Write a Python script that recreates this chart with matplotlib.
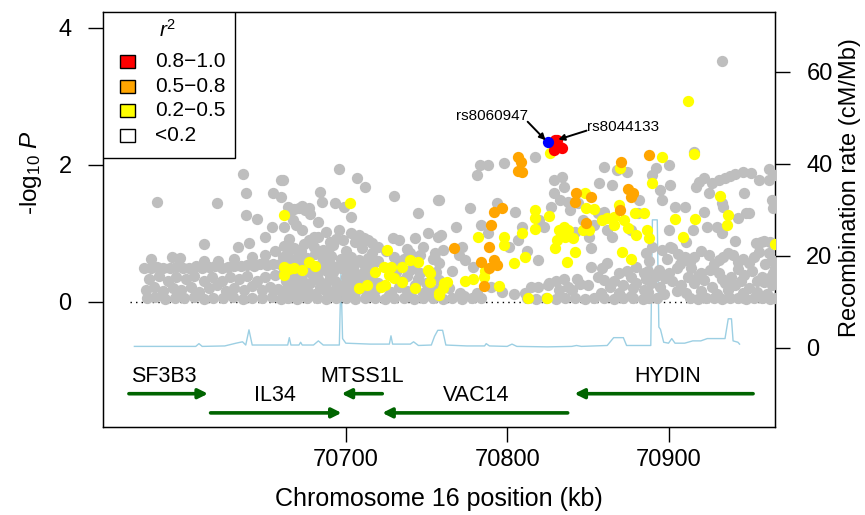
import numpy as np
import matplotlib
matplotlib.use("Agg")
import matplotlib.pyplot as plt
from matplotlib.patches import Rectangle

plt.rcParams['font.family'] = ['Liberation Sans', 'DejaVu Sans']
plt.rcParams['mathtext.fontset'] = 'custom'
plt.rcParams['mathtext.rm'] = 'Liberation Sans'
plt.rcParams['mathtext.it'] = 'Liberation Sans:italic'

# ---- SNPs, r2 < 0.2 (position kb, -log10 P) ----
gray_left = [
    (70583, 1.46), (70620, 1.45), (70612, 0.85), (70633, 0.80), (70640, 0.86),
    (70636, 1.87), (70638, 1.59), (70638, 1.27), (70645, 1.21), (70655, 1.59),
    (70660, 1.78), (70660, 1.53), (70654, 1.09), (70650, 0.95), (70656, 0.75),
    (70579, 0.62), (70592, 0.66), (70597, 0.64), (70612, 0.60), (70621, 0.59),
    (70631, 0.63), (70642, 0.65), (70650, 0.68),
    (70575, 0.50), (70579, 0.49), (70583, 0.51), (70587, 0.50), (70591, 0.49),
    (70595, 0.51), (70599, 0.50), (70603, 0.49), (70607, 0.52), (70611, 0.50),
    (70615, 0.51), (70619, 0.52), (70623, 0.50), (70627, 0.51), (70631, 0.53),
    (70635, 0.52), (70639, 0.54), (70643, 0.53), (70647, 0.55), (70651, 0.54),
    (70655, 0.56), (70659, 0.55),
    (70578, 0.34), (70584, 0.38), (70590, 0.30), (70595, 0.36), (70601, 0.33),
    (70606, 0.38), (70612, 0.31), (70617, 0.36), (70623, 0.30), (70628, 0.37),
    (70634, 0.33), (70639, 0.38), (70645, 0.31), (70650, 0.36), (70656, 0.40),
    (70576, 0.18), (70581, 0.22), (70587, 0.16), (70593, 0.21), (70598, 0.17),
    (70604, 0.22), (70609, 0.15), (70615, 0.20), (70620, 0.24), (70626, 0.16),
    (70631, 0.21), (70637, 0.18), (70642, 0.23), (70648, 0.17), (70653, 0.22),
    (70658, 0.19),
    (70577, 0.05), (70582, 0.07), (70588, 0.04), (70594, 0.06), (70600, 0.05),
    (70606, 0.07), (70612, 0.04), (70618, 0.06), (70624, 0.05), (70630, 0.07),
    (70636, 0.04), (70642, 0.06), (70648, 0.05), (70654, 0.07), (70660, 0.04),
]
gray_mid = [
    (70661, 1.78), (70666, 1.34), (70671, 1.37), (70675, 1.34), (70667, 1.20),
    (70662, 1.09), (70673, 1.05), (70683, 1.17), (70684, 1.61), (70685, 1.46),
    (70693, 1.44), (70696, 1.94), (70707, 1.81), (70712, 1.68), (70699, 1.39),
    (70703, 1.24), (70696, 1.05), (70698, 0.91), (70703, 1.01), (70708, 0.98),
    (70711, 0.93), (70716, 0.86), (70720, 0.80), (70729, 0.93), (70733, 0.91),
    (70730, 1.55), (70745, 1.30), (70743, 0.93), (70738, 0.77), (70758, 1.49),
    (70759, 0.98), (70751, 1.00), (70757, 0.95), (70664, 1.30), (70678, 1.28),
    (70669, 1.12), (70688, 1.02), (70690, 0.88), (70680, 0.95), (70664, 1.38),
    (70668, 1.36), (70673, 1.40), (70677, 1.37),
    (70665, 0.92), (70677, 0.90), (70683, 0.95), (70694, 0.92), (70706, 0.88),
    (70714, 0.90),
    (70662, 0.82), (70668, 0.78), (70674, 0.85), (70680, 0.80), (70686, 0.76),
    (70692, 0.83), (70710, 0.78), (70725, 0.74), (70748, 0.80), (70755, 0.72),
    (70664, 0.73), (70672, 0.74), (70683, 0.72), (70689, 0.73), (70700, 0.74),
    (70716, 0.72), (70740, 0.72),
    (70661, 0.66), (70666, 0.62), (70671, 0.68), (70676, 0.64), (70681, 0.70),
    (70686, 0.63), (70691, 0.67), (70697, 0.62), (70703, 0.66), (70708, 0.61),
    (70714, 0.64), (70720, 0.60), (70730, 0.66), (70736, 0.62), (70746, 0.68),
    (70754, 0.63),
    (70663, 0.56), (70669, 0.55), (70675, 0.57), (70684, 0.54), (70690, 0.56),
    (70695, 0.53), (70700, 0.57), (70705, 0.54), (70711, 0.56), (70716, 0.53),
    (70733, 0.56), (70742, 0.54), (70758, 0.57),
    (70662, 0.45), (70667, 0.42), (70672, 0.48), (70677, 0.44), (70682, 0.40),
    (70687, 0.47), (70692, 0.43), (70697, 0.49), (70702, 0.44), (70707, 0.41),
    (70712, 0.46), (70731, 0.43), (70740, 0.46), (70746, 0.42), (70756, 0.44),
    (70665, 0.37), (70670, 0.39), (70680, 0.36), (70690, 0.38), (70700, 0.37),
    (70705, 0.39), (70711, 0.36), (70716, 0.39), (70738, 0.38), (70755, 0.37),
    (70663, 0.30), (70668, 0.26), (70673, 0.32), (70678, 0.28), (70683, 0.34),
    (70688, 0.27), (70693, 0.31), (70698, 0.25), (70703, 0.33), (70708, 0.29),
    (70715, 0.31), (70720, 0.27), (70735, 0.30), (70745, 0.33), (70750, 0.27),
    (70758, 0.32),
    (70664, 0.22), (70674, 0.23), (70684, 0.22), (70694, 0.21), (70704, 0.23),
    (70710, 0.21), (70733, 0.22), (70743, 0.24), (70752, 0.21),
    (70661, 0.15), (70666, 0.18), (70671, 0.13), (70676, 0.17), (70681, 0.12),
    (70686, 0.19), (70691, 0.14), (70696, 0.16), (70701, 0.12), (70706, 0.15),
    (70713, 0.13), (70718, 0.17), (70728, 0.14), (70738, 0.16), (70748, 0.13),
    (70755, 0.17),
    (70667, 0.10), (70679, 0.10), (70691, 0.09), (70703, 0.10), (70715, 0.09),
    (70727, 0.10), (70739, 0.09), (70751, 0.10),
    (70664, 0.05), (70670, 0.04), (70676, 0.06), (70682, 0.05), (70688, 0.04),
    (70694, 0.06), (70700, 0.05), (70706, 0.04), (70712, 0.06), (70718, 0.05),
    (70724, 0.04), (70730, 0.06), (70736, 0.05), (70742, 0.04), (70748, 0.06),
    (70754, 0.05), (70760, 0.04),
]
gray_midright = [
    (70817, 2.12), (70798, 2.03), (70783, 2.00), (70788, 2.00), (70781, 1.85),
    (70757, 1.49), (70777, 1.37), (70794, 1.44), (70805, 1.31), (70823, 1.09),
    (70827, 1.39), (70809, 1.09), (70807, 0.91), (70801, 0.80), (70772, 0.80),
    (70774, 0.61), (70819, 0.61), (70829, 1.78), (70834, 1.82), (70829, 1.59),
    (70833, 1.49), (70838, 1.46), (70835, 1.68), (70844, 1.44), (70839, 1.34),
    (70860, 1.31), (70856, 1.30), (70862, 1.05), (70865, 0.95), (70860, 1.97),
    (70857, 1.74), (70874, 1.90), (70868, 1.93), (70865, 1.71), (70851, 0.95),
    (70852, 0.79), (70862, 0.57), (70880, 0.51), (70768, 1.09), (70788, 1.01),
    (70784, 1.12), (70820, 1.20), (70779, 0.51), (70766, 0.45), (70882, 1.49),
    (70881, 1.30), (70847, 1.20), (70854, 1.12), (70877, 1.05), (70842, 1.02),
    (70812, 0.75), (70770, 0.68), (70760, 0.76), (70755, 0.62),
    (70852, 0.51), (70859, 0.50), (70869, 0.42), (70877, 0.36), (70885, 0.42),
    (70860, 0.32), (70850, 0.25), (70840, 0.18), (70832, 0.18), (70825, 0.25),
    (70815, 0.22), (70811, 0.13), (70858, 0.13), (70869, 0.13), (70877, 0.08),
    (70885, 0.18), (70819, 0.22), (70826, 0.28), (70838, 0.22), (70845, 0.26),
    (70864, 0.22), (70872, 0.25), (70878, 0.20), (70790, 0.22), (70781, 0.13),
    (70771, 0.13), (70764, 0.20), (70773, 0.08), (70797, 0.15), (70804, 0.12),
    (70830, 0.30), (70835, 0.33), (70843, 0.34), (70856, 0.36), (70866, 0.30),
    (70874, 0.45), (70880, 0.28),
    (70766, 0.06), (70772, 0.04), (70778, 0.05), (70784, 0.06), (70812, 0.05),
    (70818, 0.04), (70824, 0.06), (70830, 0.04), (70836, 0.06), (70842, 0.05),
    (70848, 0.04), (70854, 0.06), (70860, 0.05), (70866, 0.04), (70872, 0.06),
    (70878, 0.05), (70884, 0.04),
]
gray_right = [
    (70933, 3.52), (70916, 2.19), (70900, 2.00), (70892, 1.96), (70890, 1.85),
    (70895, 1.64), (70896, 1.49), (70901, 1.71), (70904, 1.39), (70910, 1.39),
    (70911, 0.88), (70900, 1.05), (70901, 0.80), (70922, 1.31), (70930, 1.09),
    (70941, 0.89), (70954, 0.86), (70959, 0.89), (70917, 1.68), (70925, 1.59),
    (70933, 1.44), (70934, 1.38), (70947, 1.59), (70950, 1.30), (70964, 1.49),
    (70965, 1.37), (70943, 1.23), (70948, 1.30), (70933, 1.00), (70957, 0.87),
    (70963, 0.87), (70915, 1.05), (70924, 1.09),
    (70919, 1.75), (70922, 1.81), (70927, 1.74), (70931, 1.78), (70935, 1.81),
    (70938, 1.84), (70941, 1.87), (70946, 1.90), (70951, 1.88), (70956, 1.78),
    (70962, 1.78), (70962, 1.94), (70966, 1.85),
    (70886, 0.72), (70890, 0.80), (70896, 0.76), (70902, 0.79), (70906, 0.70),
    (70910, 0.66), (70916, 0.66), (70920, 0.74), (70925, 0.69), (70931, 0.61),
    (70937, 0.72), (70943, 0.58), (70950, 0.57), (70956, 0.73), (70962, 0.72),
    (70964, 0.61),
    (70888, 0.60), (70899, 0.63), (70907, 0.55), (70913, 0.58), (70928, 0.55),
    (70934, 0.65), (70940, 0.68), (70946, 0.62), (70953, 0.66), (70960, 0.55),
    (70966, 0.50),
    (70887, 0.45), (70894, 0.47), (70900, 0.42), (70905, 0.50), (70914, 0.50),
    (70920, 0.42), (70926, 0.46), (70931, 0.42), (70939, 0.36), (70943, 0.48),
    (70947, 0.39), (70952, 0.45), (70958, 0.36), (70965, 0.42),
    (70886, 0.33), (70892, 0.38), (70898, 0.35), (70912, 0.36), (70918, 0.38),
    (70933, 0.34), (70945, 0.30), (70962, 0.35), (70966, 0.32),
    (70889, 0.28), (70895, 0.22), (70902, 0.30), (70908, 0.24), (70916, 0.28),
    (70922, 0.32), (70927, 0.22), (70935, 0.28), (70941, 0.25), (70950, 0.20),
    (70955, 0.30), (70959, 0.29), (70964, 0.24),
    (70887, 0.15), (70897, 0.12), (70905, 0.16), (70911, 0.13), (70920, 0.16),
    (70930, 0.12), (70937, 0.17), (70946, 0.13), (70955, 0.15), (70961, 0.12),
    (70888, 0.05), (70893, 0.06), (70913, 0.05), (70918, 0.04), (70923, 0.06),
    (70928, 0.05), (70933, 0.04), (70938, 0.06), (70943, 0.05), (70948, 0.04),
    (70953, 0.06), (70958, 0.05), (70963, 0.04), (70966, 0.06),
]

# ---- SNPs, r2 0.2-0.5 ----
yellow_snps = [
    (70826.3, 2.17), (70896, 2.12), (70916, 2.16), (70911.8, 2.93), (70889.5, 1.74),
    (70932, 1.55), (70870, 1.96), (70848, 1.59), (70848.6, 1.37), (70869, 1.42),
    (70879, 1.30), (70885, 1.30), (70817, 1.34), (70817, 1.23), (70825.7, 1.26),
    (70831.9, 1.05), (70835, 1.10), (70838, 1.05), (70835.6, 0.95), (70841, 0.93),
    (70830.7, 0.90), (70829.4, 0.79), (70841.8, 0.73), (70817, 1.07), (70809, 1.01),
    (70797.8, 0.95), (70798, 0.83), (70782, 0.95), (70804, 0.57), (70810.8, 0.66),
    (70785.4, 0.36), (70786, 0.45), (70794.7, 0.23), (70779, 0.33), (70773.7, 0.31),
    (70762.5, 0.29), (70758, 0.13), (70760, 0.20), (70812.7, 0.06), (70824.5, 0.06),
    (70858.5, 1.20), (70862, 1.22), (70866, 1.24), (70866, 1.12), (70872.7, 1.20),
    (70875, 1.08), (70879.6, 0.98), (70886.4, 1.05), (70887.6, 0.93), (70871, 0.73),
    (70877, 0.63), (70837, 0.58), (70903.7, 1.21), (70916.7, 1.21), (70909, 0.95),
    (70937, 1.27), (70936.5, 1.12), (70966, 0.85), (70854, 1.36), (70847, 1.05),
    (70851, 1.05),
    (70661.6, 1.27), (70702.5, 1.44), (70725.4, 0.76), (70661.6, 0.51), (70664.5, 0.48),
    (70668, 0.50), (70672.8, 0.47), (70677, 0.58), (70681, 0.53), (70661.6, 0.39),
    (70708, 0.20), (70713, 0.25), (70718, 0.44), (70723.5, 0.51), (70726.6, 0.39),
    (70724, 0.25), (70728, 0.51), (70734.7, 0.51), (70739.6, 0.61), (70745, 0.58),
    (70730, 0.35), (70734.7, 0.29), (70742.7, 0.20), (70752, 0.42), (70752, 0.29),
    (70757.6, 0.10), (70760.7, 0.28), (70722, 0.22), (70751, 0.47),
]
# ---- SNPs, r2 0.5-0.8 ----
orange_snps = [
    (70807, 2.12), (70808.4, 2.04), (70807, 1.91), (70809, 1.90), (70870.3, 2.04),
    (70887.6, 2.15), (70842.4, 1.59), (70842, 1.46), (70852, 1.53), (70875, 1.65),
    (70878, 1.59), (70876.5, 1.53), (70792, 1.31), (70797, 1.37), (70789.8, 1.12),
    (70869.7, 1.34), (70848.6, 1.15), (70788.5, 0.80), (70783.6, 0.58), (70791.6, 0.61),
    (70793.5, 0.54), (70788.5, 0.50), (70785.4, 0.23), (70767, 0.79),
]
# ---- SNPs, r2 0.8-1.0 and the index SNP ----
red_snps = [(70829.4, 2.36), (70832.5, 2.26), (70828.8, 2.22), (70833.7, 2.25), (70831, 2.37)]
index_snp = [(70825.1, 2.34)]

# ---- recombination rate (kb, cM/Mb) ----
recomb_kb = [70569, 70580, 70600, 70607, 70609, 70611, 70625, 70632, 70636, 70638,
             70640, 70642, 70655, 70664, 70665, 70666, 70671, 70672, 70673, 70680,
             70683, 70686, 70696, 70697, 70698, 70700, 70715, 70727, 70728, 70729,
             70740, 70742, 70745, 70753, 70755, 70757, 70760, 70762, 70775, 70786,
             70787, 70789, 70800, 70803, 70806, 70825, 70840, 70843, 70846, 70862,
             70866, 70872, 70874, 70886, 70889, 70890, 70893, 70894, 70895, 70897,
             70900, 70902, 70904, 70910, 70915, 70920, 70924, 70935, 70937, 70939,
             70940, 70943, 70944]
recomb_rate = [0.3, 0.3, 0.3, 0.3, 0.9, 0.3, 0.4, 1.0, 1.3, 0.6,
               3.9, 0.6, 0.6, 0.6, 2.2, 0.6, 0.6, 1.2, 0.6, 0.6,
               1.5, 0.6, 0.6, 16.0, 2.0, 1.0, 0.8, 0.8, 2.6, 0.8,
               0.8, 1.3, 0.5, 0.6, 2.5, 3.8, 3.8, 0.6, 0.4, 0.4,
               0.9, 0.4, 0.3, 0.8, 0.3, 0.2, 0.3, 0.5, 0.3, 0.5,
               2.2, 2.2, 0.5, 0.5, 0.5, 27.8, 27.8, 4.5, 4.0, 1.2,
               1.0, 2.0, 1.0, 1.0, 1.5, 1.5, 2.0, 2.0, 6.3, 6.3,
               1.5, 1.2, 0.8]

# ---- genes ----
gene_names = ["SF3B3", "IL34", "MTSS1L", "VAC14", "HYDIN"]
gene_start = [70565.6, 70616.2, 70697.4, 70722.6, 70841.7]
gene_end = [70614.6, 70697.4, 70722.6, 70837.5, 70952.4]
gene_strand = ["+", "+", "-", "-", "-"]
gene_row = [0, 1, 0, 1, 0]
gene_label_kb = [70587, 70656, 70710, 70780.5, 70899.7]

legend_labels = ["0.8\u22121.0", "0.5\u22120.8", "0.2\u22120.5", "<0.2"]
legend_colors = ["#ff0000", "#ffa500", "#ffff00", "#ffffff"]

region_start_kb = 70566

fig = plt.figure(figsize=(8.65, 5.15), dpi=100)
ax = fig.add_axes([0.119, 0.171, 0.777, 0.806])
ax2 = ax.twinx()
ax.set_zorder(ax2.get_zorder() + 1)
ax.patch.set_visible(False)

ax2.plot(recomb_kb, recomb_rate, color="#9ccfe3", lw=1.0)
ax2.set_ylim(-17.2, 73.0)
ax2.set_yticks([0, 20, 40, 60])

ax.hlines(0, region_start_kb, 70966, colors="black", linestyles=(0, (1, 3)), lw=1)

groups = [(gray_left + gray_mid + gray_midright + gray_right, "#bebebe"),
          (yellow_snps, "#ffff00"), (orange_snps, "#ffa500"),
          (red_snps, "#ff0000"), (index_snp, "#0000ff")]
for pts, col in groups:
    arr = np.array(pts)
    ax.scatter(arr[:, 0], arr[:, 1], s=66, c=col, linewidths=0, zorder=3)

# labelled SNPs
arrow = dict(arrowstyle="-|>", color="black", lw=1.4, mutation_scale=9, shrinkA=0, shrinkB=0)
ax.annotate("", xy=(70823.8, 2.36), xytext=(70812.7, 2.63), arrowprops=arrow, zorder=5)
ax.text(70790.5, 2.72, "rs8060947", fontsize=11, ha="center", va="center")
ax.annotate("", xy=(70831.7, 2.37), xytext=(70849.2, 2.50), arrowprops=arrow, zorder=5)
ax.text(70849.5, 2.56, "rs8044133", fontsize=11, ha="left", va="center")

# genes
arrow_y = [-1.34, -1.62]
label_y = [-1.09, -1.37]
for name, s, e, strand, row, lx in zip(gene_names, gene_start, gene_end,
                                        gene_strand, gene_row, gene_label_kb):
    a, b = (s, e) if strand == "+" else (e, s)
    ax.annotate("", xy=(b, arrow_y[row]), xytext=(a, arrow_y[row]),
                arrowprops=dict(arrowstyle="-|>", color="#006400", lw=2.6,
                                mutation_scale=14, shrinkA=0, shrinkB=0))
    ax.text(lx, label_y[row], name, fontsize=15.5, ha="center", va="center")

ax.set_xlim(70549.5, 70966)
ax.set_ylim(-1.825, 4.234)
ax.set_yticks([0, 2, 4])
ax.set_xticks([70700, 70800, 70900])

for a in (ax, ax2):
    a.tick_params(labelsize=17, length=11, width=1, pad=11.5)
ax.tick_params(axis="x", pad=5)
for sp in ax.spines.values():
    sp.set_linewidth(1)

ax.set_xlabel("Chromosome 16 position (kb)", fontsize=18)
ax.xaxis.set_label_coords(0.5, -0.145)
ax.set_ylabel(r"-log$_{10}$ $\it{P}$", fontsize=17.5)
ax.yaxis.set_label_coords(-0.088, 0.612)
ax2.set_ylabel("Recombination rate (cM/Mb)", fontsize=17)
ax2.yaxis.set_label_coords(1.0952, 0.576)

# legend box drawn by hand (R style)
ax.add_patch(Rectangle((0, 1 - 0.352), 0.196, 0.352, transform=ax.transAxes,
                       facecolor="white", edgecolor="black", lw=1, zorder=10))
ax.text(0.0967, 0.9566, r"$r^2$", transform=ax.transAxes, fontsize=15,
        ha="center", va="center", zorder=11)
for i, (lab, col) in enumerate(zip(legend_labels, legend_colors)):
    yc = 0.8795 - i * 0.0588
    ax.add_patch(Rectangle((0.0253, yc - 0.0157), 0.0223, 0.0314, transform=ax.transAxes,
                           facecolor=col, edgecolor="black", lw=1, zorder=11))
    ax.text(0.0774, yc, lab, transform=ax.transAxes, fontsize=15,
            ha="left", va="center", zorder=11)

fig.savefig("out.png", dpi=100)
